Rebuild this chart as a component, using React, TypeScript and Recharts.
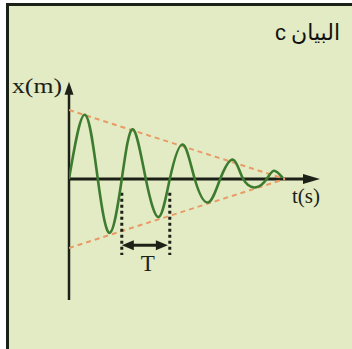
import React from "react";
import { ComposedChart, Line, XAxis, YAxis, ReferenceLine } from "recharts";

// damped oscillation: extrema and zero crossings, t in s (T = 1 s), x in units of the initial amplitude
const waveT = [0, 0.33, 0.6, 0.85, 1.1, 1.33, 1.6, 1.87, 2.1, 2.37, 2.62, 2.9, 3.15, 3.42, 3.63, 3.9, 4.12, 4.27, 4.45];
const waveX = [0, 0.93, 0, -0.78, 0, 0.72, 0, -0.55, 0, 0.5, 0, -0.34, 0, 0.28, 0, -0.12, 0, 0.12, 0.02];

// decay envelope (±A0 at t = 0, meeting the axis at the end)
const envT = [0, 4.5];
const envUpper = [1, 0];
const envLower = [-1, 0];

// one period, marked between two crossings
const periodStart = 1.1;
const periodEnd = 2.1;

const T_MAX = 5.23;
const X_MIN = -1.754;
const X_MAX = 1.435;

const wave = waveT.map((t, i) => ({ t, x: waveX[i] }));
const upper = envT.map((t, i) => ({ t, x: envUpper[i] }));
const lower = envT.map((t, i) => ({ t, x: envLower[i] }));

const INK = "#1c2118";
const SERIF = "'Liberation Serif', 'Times New Roman', serif";

function head(xt: number, yt: number, x0: number, y0: number, len: number, half: number) {
  const d = Math.hypot(xt - x0, yt - y0) || 1;
  const ux = (xt - x0) / d;
  const uy = (yt - y0) / d;
  const bx = xt - ux * len;
  const by = yt - uy * len;
  return `${xt},${yt} ${bx - uy * half},${by + ux * half} ${bx + uy * half},${by - ux * half}`;
}

const TimeAxis = (p: any) => {
  const { x1, y1, x2, y2 } = p;
  return (
    <g>
      <line x1={x1} y1={y1} x2={x2 - 12} y2={y2} stroke={INK} strokeWidth={3} />
      <polygon points={head(x2, y2, x1, y1, 17, 5)} fill={INK} />
      <text x={x2 - 28} y={y2 + 24} fontFamily={SERIF} fontSize={21} fill={INK}>
        t(s)
      </text>
    </g>
  );
};

const PosAxis = (p: any) => {
  const { x1, y1, x2, y2 } = p;
  return (
    <g>
      <line x1={x1} y1={y1} x2={x2} y2={y2 + 10} stroke={INK} strokeWidth={2.5} />
      <polygon points={head(x2, y2, x1, y1, 13, 4.5)} fill={INK} />
      <text
        x={x2 - 57}
        y={y2 + 11}
        fontFamily={SERIF}
        fontSize={22}
        fill={INK}
        textLength={50}
        lengthAdjust="spacingAndGlyphs"
      >
        x(m)
      </text>
    </g>
  );
};

const PeriodArrow = (p: any) => {
  const { x1, y1, x2, y2 } = p;
  return (
    <g>
      <line x1={x1 + 8} y1={y1} x2={x2 - 8} y2={y2} stroke={INK} strokeWidth={3} />
      <polygon points={head(x1, y1, x2, y2, 12, 5)} fill={INK} />
      <polygon points={head(x2, y2, x1, y1, 12, 5)} fill={INK} />
      <text x={(x1 + x2) / 2 + 3} y={y1 + 26} textAnchor="middle" fontFamily={SERIF} fontSize={23} fill={INK}>
        T
      </text>
    </g>
  );
};

export default function App() {
  return (
    <div style={{ position: "absolute", left: 0, top: 0, width: 352, height: 349, background: "#fff", overflow: "hidden" }}>
      <div
        style={{
          position: "absolute",
          left: 6,
          top: 3,
          width: 352,
          height: 349,
          background: "#e2ebc3",
          borderLeft: `3px solid ${INK}`,
          borderTop: `3px solid ${INK}`,
        }}
      />
      {/* title */}
      <div
        style={{
          position: "absolute",
          right: 12,
          top: 20,
          display: "flex",
          alignItems: "baseline",
          gap: 5,
          fontFamily: "'Liberation Sans', 'DejaVu Sans', sans-serif",
          fontSize: 22,
          color: "#111",
          whiteSpace: "nowrap",
        }}
      >
        <span>c</span>
        <span>البيان</span>
      </div>
      <div style={{ position: "absolute", left: 0, top: 0 }}>
        <ComposedChart width={352} height={349} margin={{ top: 80, right: 32, bottom: 49, left: 69 }}>
          <XAxis dataKey="t" type="number" domain={[0, T_MAX]} allowDataOverflow hide />
          <YAxis dataKey="x" type="number" domain={[X_MIN, X_MAX]} allowDataOverflow hide />

          <ReferenceLine
            segment={[{ x: 0, y: 0 }, { x: T_MAX, y: 0 }]}
            ifOverflow="visible"
            shape={TimeAxis}
          />
          <ReferenceLine
            segment={[{ x: 0, y: X_MIN }, { x: 0, y: 1.41 }]}
            ifOverflow="visible"
            shape={PosAxis}
          />

          <Line
            data={upper}
            dataKey="x"
            type="linear"
            stroke="#e89b66"
            strokeWidth={2}
            strokeDasharray="5 4"
            dot={false}
            activeDot={false}
            isAnimationActive={false}
          />
          <Line
            data={lower}
            dataKey="x"
            type="linear"
            stroke="#e89b66"
            strokeWidth={2}
            strokeDasharray="5 4"
            dot={false}
            activeDot={false}
            isAnimationActive={false}
          />

          <ReferenceLine
            segment={[{ x: periodStart, y: -0.2 }, { x: periodStart, y: -1.1 }]}
            ifOverflow="visible"
            stroke={INK}
            strokeWidth={3}
            strokeDasharray="3 3"
          />
          <ReferenceLine
            segment={[{ x: periodEnd, y: -0.2 }, { x: periodEnd, y: -1.1 }]}
            ifOverflow="visible"
            stroke={INK}
            strokeWidth={3}
            strokeDasharray="3 3"
          />
          <ReferenceLine
            segment={[{ x: periodStart, y: -0.96 }, { x: periodEnd - 0.04, y: -0.96 }]}
            ifOverflow="visible"
            shape={PeriodArrow}
          />

          <Line
            data={wave}
            dataKey="x"
            type="natural"
            stroke="#3d7b30"
            strokeWidth={2.6}
            dot={false}
            activeDot={false}
            isAnimationActive={false}
          />
        </ComposedChart>
      </div>
    </div>
  );
}
